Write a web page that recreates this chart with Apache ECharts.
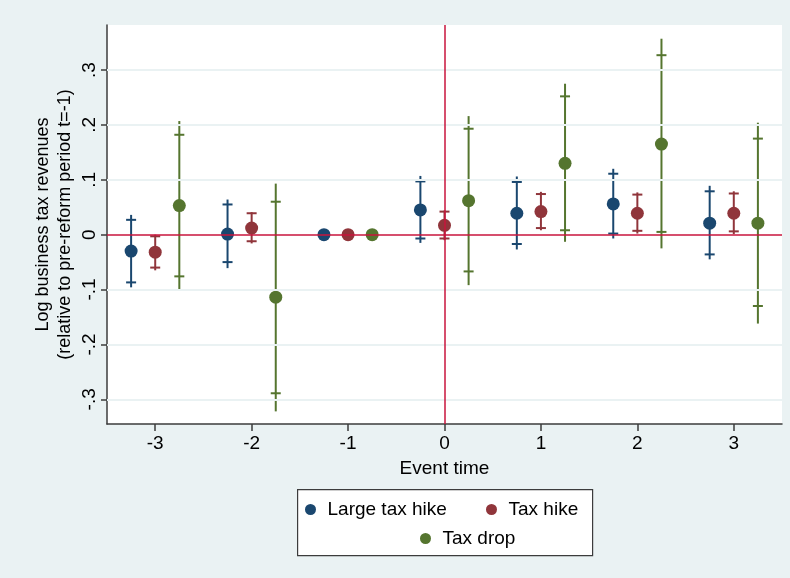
<!DOCTYPE html>
<html>
<head>
<meta charset="utf-8">
<script src="https://cdn.jsdelivr.net/npm/echarts@6/dist/echarts.min.js"></script>
<style>
html,body{margin:0;padding:0;background:#EAF2F3;}
#chart{width:790px;height:578px;}
</style>
</head>
<body>
<div id="chart"></div>
<script>
// Event times (x axis categories)
var eventTimes = [-3, -2, -1, 0, 1, 2, 3];
var xTicks = [-3, -2, -1, 0, 1, 2, 3];
var yTicks = [-0.3, -0.2, -0.1, 0, 0.1, 0.2, 0.3];

var seriesNames = ['Large tax hike', 'Tax hike', 'Tax drop'];

// Large tax hike
var largeHikeCoef  = [-0.030, 0.001, 0, 0.045, 0.039, 0.056, 0.021];
var largeHikeHi90  = [0.027, 0.055, null, 0.097, 0.096, 0.111, 0.079];
var largeHikeLo90  = [-0.087, -0.050, null, -0.007, -0.017, 0.002, -0.036];
var largeHikeHi95  = [0.036, 0.064, null, 0.107, 0.106, 0.120, 0.089];
var largeHikeLo95  = [-0.096, -0.061, null, -0.015, -0.027, -0.007, -0.045];

// Tax hike
var hikeCoef  = [-0.032, 0.012, 0, 0.017, 0.042, 0.039, 0.039];
var hikeHi90  = [-0.003, 0.039, null, 0.042, 0.074, 0.073, 0.075];
var hikeLo90  = [-0.060, -0.012, null, -0.007, 0.012, 0.007, 0.006];
var hikeHi95  = [0.000, 0.041, null, 0.044, 0.078, 0.077, 0.079];
var hikeLo95  = [-0.065, -0.016, null, -0.010, 0.008, 0.002, 0.001];

// Tax drop
var dropCoef  = [0.053, -0.114, 0, 0.062, 0.130, 0.165, 0.021];
var dropHi90  = [0.182, 0.060, null, 0.193, 0.252, 0.327, 0.175];
var dropLo90  = [-0.076, -0.289, null, -0.067, 0.008, 0.005, -0.130];
var dropHi95  = [0.207, 0.093, null, 0.216, 0.275, 0.357, 0.204];
var dropLo95  = [-0.100, -0.322, null, -0.092, -0.013, -0.025, -0.162];

var colors = ['#1A476F', '#90353B', '#55752F'];
var offsets = [-0.25, 0, 0.25];
var FONT = '"Liberation Sans", Arial, sans-serif';

var groups = [
  {coef: largeHikeCoef, hi90: largeHikeHi90, lo90: largeHikeLo90, hi95: largeHikeHi95, lo95: largeHikeLo95},
  {coef: hikeCoef, hi90: hikeHi90, lo90: hikeLo90, hi95: hikeHi95, lo95: hikeLo95},
  {coef: dropCoef, hi90: dropHi90, lo90: dropLo90, hi95: dropHi95, lo95: dropLo95}
];

function fmtY(v) {
  if (Math.abs(v) < 1e-9) return '0';
  var s = Math.abs(v).toFixed(1).replace(/^0/, '');
  return (v < 0 ? '-' : '') + s;
}

var series = [];
// background: gridlines and reference lines
series.push({
  type: 'scatter', name: '_ref', data: [], z: 1, silent: true,
  markLine: {
    silent: true, symbol: 'none', label: {show: false}, animation: false,
    lineStyle: {color: '#EAF2F3', width: 2, type: 'solid'},
    data: yTicks.filter(function (v) { return v !== 0; }).map(function (v) { return {yAxis: v}; })
  }
});
series.push({
  type: 'scatter', name: '_ref2', data: [], z: 2, silent: true,
  markLine: {
    silent: true, symbol: 'none', label: {show: false}, animation: false,
    lineStyle: {color: '#C8143C', width: 1.5, type: 'solid'},
    data: [{yAxis: 0}, {xAxis: 0}]
  }
});

groups.forEach(function (g, gi) {
  var ebData = [];
  var ptData = [];
  eventTimes.forEach(function (t, i) {
    var x = t + offsets[gi];
    ptData.push([x, g.coef[i]]);
    if (g.lo95[i] !== null) {
      ebData.push([x, g.lo95[i], g.hi95[i], g.lo90[i], g.hi90[i]]);
    }
  });
  series.push({
    type: 'custom', name: seriesNames[gi] + ' CI', z: 3, silent: true,
    data: ebData,
    encode: {x: 0, y: [1, 2]},
    renderItem: function (params, api) {
      var x = api.value(0);
      var p95lo = api.coord([x, api.value(1)]);
      var p95hi = api.coord([x, api.value(2)]);
      var p90lo = api.coord([x, api.value(3)]);
      var p90hi = api.coord([x, api.value(4)]);
      var hw = 5;
      var st = {stroke: colors[gi], lineWidth: 2};
      return {
        type: 'group',
        children: [
          {type: 'line', shape: {x1: p95lo[0], y1: p95lo[1], x2: p95hi[0], y2: p95hi[1]}, style: st},
          {type: 'line', shape: {x1: p90lo[0] - hw, y1: p90lo[1], x2: p90lo[0] + hw, y2: p90lo[1]}, style: st},
          {type: 'line', shape: {x1: p90hi[0] - hw, y1: p90hi[1], x2: p90hi[0] + hw, y2: p90hi[1]}, style: st}
        ]
      };
    }
  });
  series.push({
    type: 'scatter', name: seriesNames[gi], z: 4,
    data: ptData, symbol: 'circle', symbolSize: 13,
    itemStyle: {color: colors[gi], opacity: 1}
  });
});

var legendCommon = {
  orient: 'horizontal', padding: 0, itemWidth: 20, itemHeight: 11,
  icon: 'circle', selectedMode: false,
  textStyle: {fontFamily: FONT, fontSize: 19, color: '#000', padding: [0, 0, 0, 2]}
};

var option = {
  backgroundColor: '#EAF2F3',
  animation: false,
  textStyle: {fontFamily: FONT},
  grid: {left: 107, right: 8, top: 25, bottom: 154, show: true, backgroundColor: '#FFFFFF', borderWidth: 0},
  xAxis: {
    type: 'value', min: -3.5, max: 3.5,
    name: 'Event time', nameLocation: 'middle', nameGap: 35,
    nameTextStyle: {fontFamily: FONT, fontSize: 19, color: '#000'},
    axisLine: {show: true, onZero: false, lineStyle: {color: '#3C3C3C', width: 1.5}},
    axisTick: {show: true, inside: false, length: 7, customValues: xTicks, lineStyle: {color: '#3C3C3C', width: 1.5}},
    axisLabel: {show: true, margin: 10, customValues: xTicks, fontFamily: FONT, fontSize: 19, color: '#000',
      formatter: function (v) { return String(v); }},
    splitLine: {show: false}
  },
  yAxis: {
    type: 'value', min: -0.345, max: 0.382,
    name: 'Log business tax revenues\n(relative to pre-reform period t=-1)',
    nameLocation: 'middle', nameRotate: 90, nameGap: 31, nameMoveOverlap: false,
    nameTextStyle: {fontFamily: FONT, fontSize: 18, color: '#000', lineHeight: 22, align: 'center'},
    axisLine: {show: true, onZero: false, lineStyle: {color: '#3C3C3C', width: 1.5}},
    axisTick: {show: true, inside: false, length: 6, customValues: yTicks, lineStyle: {color: '#3C3C3C', width: 1.5}},
    axisLabel: {show: true, rotate: 90, margin: 8, customValues: yTicks, fontFamily: FONT, fontSize: 19, color: '#000',
      formatter: fmtY},
    splitLine: {show: false}
  },
  legend: [
    Object.assign({}, legendCommon, {data: [seriesNames[0]], left: 305, top: 500}),
    Object.assign({}, legendCommon, {data: [seriesNames[1]], left: 486, top: 500}),
    Object.assign({}, legendCommon, {data: [seriesNames[2]], left: 420, top: 529})
  ],
  graphic: [{
    type: 'rect', left: 297, top: 489, z: -1,
    shape: {width: 295, height: 66},
    style: {fill: '#FFFFFF', stroke: '#3C3C3C', lineWidth: 1.2}
  }],
  series: series
};

var chart = echarts.init(document.getElementById('chart'), null, {renderer: 'canvas'});
chart.setOption(option);
</script>
</body>
</html>
